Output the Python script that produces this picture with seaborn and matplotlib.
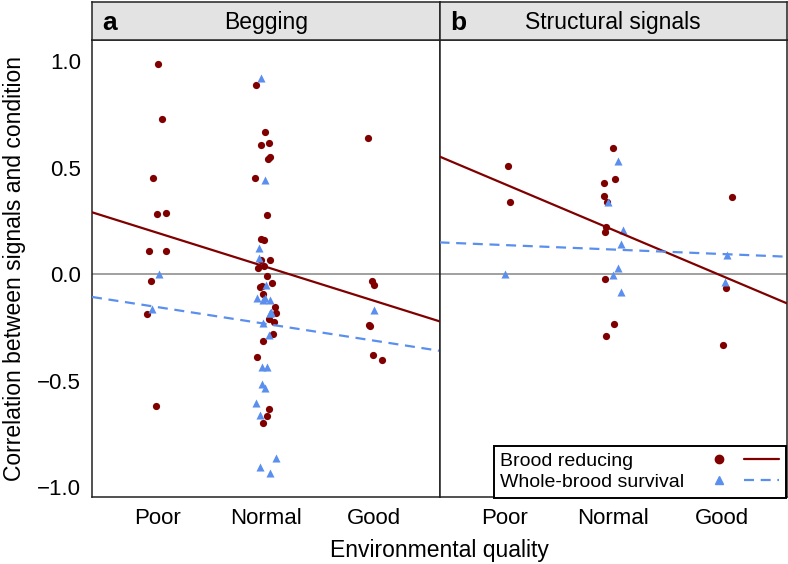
import numpy as np
import pandas as pd
import matplotlib
matplotlib.use("Agg")
import matplotlib.pyplot as plt
import seaborn as sns
from matplotlib.lines import Line2D
from matplotlib.legend_handler import HandlerTuple

# categorie di qualità ambientale
categories = ["Poor", "Normal", "Good"]

# pannello a: begging -- brood reducing (br) e whole-brood survival (wb)
beg_br_poor = [0.986, 0.728, 0.452, 0.283, 0.288, 0.108, 0.108, -0.031, -0.189, -0.618]
beg_br_normal = [0.887, 0.667, 0.616, 0.607, 0.549, 0.539, 0.452, 0.278, 0.166, 0.158,
                 0.067, 0.067, 0.038, 0.030, -0.009, -0.041, -0.056, -0.060, -0.094,
                 -0.154, -0.185, -0.213, -0.225, -0.282, -0.315, -0.388, -0.634,
                 -0.668, -0.698]
beg_br_good = [0.637, -0.031, -0.053, -0.241, -0.245, -0.382, -0.404]
beg_wb_poor = [0.0, -0.166]
beg_wb_normal = [0.919, 0.441, 0.121, 0.074, -0.052, -0.111, -0.114, -0.122, -0.122,
                 -0.180, -0.185, -0.185, -0.231, -0.286, -0.435, -0.435, -0.516,
                 -0.534, -0.607, -0.663, -0.865, -0.905, -0.933]
beg_wb_good = [-0.169]

# pannello b: structural signals
str_br_poor = [0.507, 0.339]
str_br_normal = [0.593, 0.445, 0.427, 0.368, 0.338, 0.219, 0.199, -0.022, -0.235, -0.290]
str_br_good = [0.362, -0.064, -0.332]
str_wb_poor = [0.0]
str_wb_normal = [0.532, 0.337, 0.205, 0.141, 0.028, -0.005, -0.085]
str_wb_good = [0.089, -0.038]

# rette di regressione: (valore a "Normal", pendenza per categoria)
beg_fit_br = (0.034, -0.160)
beg_fit_wb = (-0.234, -0.079)
str_fit_br = (0.207, -0.2155)
str_fit_wb = (0.115, -0.021)

panels = ["Begging", "Structural signals"]
groups = ["Brood reducing", "Whole-brood survival"]

RED = "#800000"
BLUE = "#5a8fee"


def build_frame():
    rows = []
    raw = {
        ("Begging", "Brood reducing"): [beg_br_poor, beg_br_normal, beg_br_good],
        ("Begging", "Whole-brood survival"): [beg_wb_poor, beg_wb_normal, beg_wb_good],
        ("Structural signals", "Brood reducing"): [str_br_poor, str_br_normal, str_br_good],
        ("Structural signals", "Whole-brood survival"): [str_wb_poor, str_wb_normal, str_wb_good],
    }
    for (panel, group), lists in raw.items():
        for cat, vals in zip(categories, lists):
            for v in vals:
                rows.append({"panel": panel, "group": group, "quality": cat, "r": v})
    return pd.DataFrame(rows)


df = build_frame()
fits = {
    "Begging": [beg_fit_br, beg_fit_wb],
    "Structural signals": [str_fit_br, str_fit_wb],
}

sns.set_theme(style="white")
plt.rcParams["font.family"] = ["Liberation Sans", "DejaVu Sans"]
plt.rcParams["text.color"] = "black"
plt.rcParams["axes.labelcolor"] = "black"

fig = plt.figure(figsize=(7.88, 5.64), dpi=100)
W, H = 788.0, 564.0
left_px = [92.0, 439.5]
width_px = 347.5
ax_bottom, ax_top = 497.0, 40.0
strip_top = 2.0

np.random.seed(3)
axes = []
for i, panel in enumerate(panels):
    ax = fig.add_axes([left_px[i] / W, 1 - ax_bottom / H, width_px / W, (ax_bottom - ax_top) / H])
    axes.append(ax)
    ax.axhline(0, color="#999999", lw=1.3, zorder=1)
    sub = df[df["panel"] == panel]
    sns.stripplot(data=sub[sub["group"] == groups[0]], x="quality", y="r", order=categories,
                  color=RED, marker="o", size=5.2, jitter=0.1, linewidth=0, ax=ax, zorder=3)
    sns.stripplot(data=sub[sub["group"] == groups[1]], x="quality", y="r", order=categories,
                  color=BLUE, marker="^", size=5.8, jitter=0.1, linewidth=0, ax=ax, zorder=4)
    (b_br, m_br), (b_wb, m_wb) = fits[panel]
    ax.axline((1, b_br), slope=m_br, color=RED, lw=1.6, zorder=5)
    ax.axline((1, b_wb), slope=m_wb, color=BLUE, lw=1.6, dashes=(4.5, 3), zorder=5)
    ax.set_xlim(-0.6, 2.6)
    ax.set_ylim(-1.047, 1.099)
    ax.set_xlabel("")
    ax.set_ylabel("")
    ax.tick_params(axis="both", length=0, pad=8, labelsize=16, colors="black")
    for s in ax.spines.values():
        s.set_color("#222222")
        s.set_linewidth(1.1)
    # barra del titolo
    sax = fig.add_axes([left_px[i] / W, 1 - ax_top / H, width_px / W, (ax_top - strip_top) / H])
    sax.set_facecolor("#e3e3e3")
    sax.set_xticks([])
    sax.set_yticks([])
    for s in sax.spines.values():
        s.set_color("#222222")
        s.set_linewidth(1.1)
    sax.text(0.5, 0.47, panel, ha="center", va="center", fontsize=16.5, transform=sax.transAxes)
    sax.text(0.03, 0.45, "ab"[i], ha="left", va="center", fontsize=19, fontweight="bold",
             transform=sax.transAxes)

axes[0].set_yticks([-1.0, -0.5, 0.0, 0.5, 1.0])
axes[0].set_yticklabels(["\u22121.0", "\u22120.5", "0.0", "0.5", "1.0"])
axes[1].set_yticks([])
axes[0].set_ylabel("Correlation between signals and condition", fontsize=16.5, labelpad=8)
fig.text(439.5 / W, 1 - 550 / H, "Environmental quality", ha="center", va="center", fontsize=16.5)

h_br = (Line2D([], [], ls="", marker="o", color=RED, markersize=6),
        Line2D([], [], color=RED, lw=1.6))
h_wb = (Line2D([], [], ls="", marker="^", color=BLUE, markersize=5.5),
        Line2D([], [], color=BLUE, lw=1.6, dashes=(4.5, 3)))
leg = fig.legend([h_br, h_wb], groups, loc="lower right",
                 bbox_to_anchor=(785.5 / W, 1 - 497.5 / H), bbox_transform=fig.transFigure,
                 handler_map={tuple: HandlerTuple(ndivide=None, pad=0.4)},
                 markerfirst=False, handlelength=4.0, handletextpad=0.9,
                 fontsize=14, frameon=True, fancybox=False, framealpha=1,
                 borderpad=0.32, labelspacing=0.18, borderaxespad=0)
leg.get_frame().set_edgecolor("black")
leg.get_frame().set_linewidth(1.4)

# testo della legenda allineato a sinistra: allargo lo spazio delle righe più corte
fig.canvas.draw()
renderer = fig.canvas.get_renderer()
widths = [t.get_window_extent(renderer).width for t in leg.get_texts()]
rows = leg._legend_handle_box.get_children()[0].get_children()
for row, w in zip(rows, widths):
    row.sep += (max(widths) - w) * 72.0 / fig.dpi

fig.savefig("out.png", dpi=100)
